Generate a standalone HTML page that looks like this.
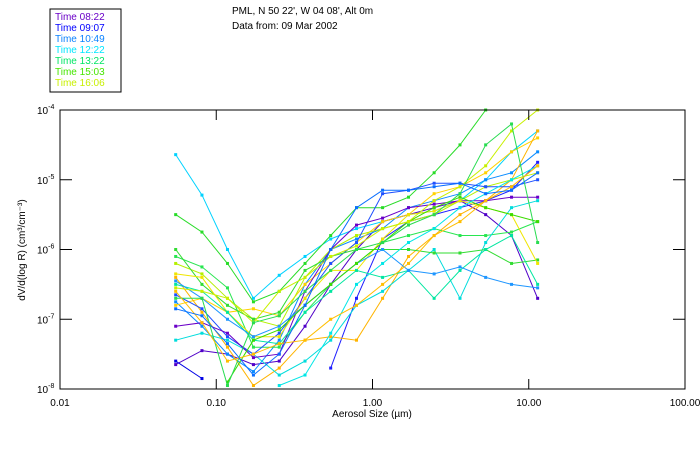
<!DOCTYPE html>
<html><head><meta charset="utf-8"><style>
body{margin:0;background:#fff;width:700px;height:450px;overflow:hidden;font-family:"Liberation Sans",sans-serif}
svg text{font-family:"Liberation Sans",sans-serif;font-size:10px}
</style></head><body>
<svg id="chart" width="700" height="450">
<rect x="50" y="9" width="71" height="83" fill="#fff" stroke="#000"/>
<g id="legend"></g>
<text x="232" y="14">PML, N 50 22', W 04 08', Alt 0m</text>
<text x="232" y="29">Data from: 09 Mar 2002</text>
<g id="series"></g>
<rect x="60" y="110" width="625" height="279" fill="none" stroke="#000"/>
<g id="axes"></g>
<text x="372" y="417" text-anchor="middle">Aerosol Size (µm)</text>
<text transform="translate(25,250) rotate(-90)" text-anchor="middle">dV/d(log R) (cm³/cm⁻³)</text>
</svg>
<script>
const legendLabels=["Time 08:22","Time 09:07","Time 10:49","Time 12:22","Time 13:22","Time 15:03","Time 16:06"];
const legendColors=["#6a00c8","#0000ff","#0a82ff","#00e6ff","#00e664","#46e600","#c8f000"];
const xTicks=[0.01,0.1,1,10,100];
const xTickLabels=["0.01","0.10","1.00","10.00","100.00"];
const yTicks=[-4,-5,-6,-7,-8];
const sizes=[0.055,0.081,0.118,0.173,0.253,0.37,0.54,0.79,1.16,1.7,2.48,3.63,5.3,7.76,11.4];
const seriesColors=["#00d2ff","#28dc28","#5000c8","#1e1eff","#0a8cff","#ffd200","#ffb400","#b4f000","#28e650","#00dcdc","#1e50ff","#6a00c8","#32dc32","#f0e600","#00e6a0","#1e96ff","#3cdc00","#00e6e6","#c8f000","#28dc50","#ffbe00","#0000e6","#0a6eff"];
const s0=[-4.64,-5.22,-6.0,-6.7,-6.37,-6.1,-5.85,-5.7,-5.6,-5.5,-5.45,-5.3,-5.0,-4.6,-4.3];
const s1=[-5.5,-5.75,-6.2,-6.75,-6.6,-6.2,-5.8,-5.4,-5.4,-5.25,-4.9,-4.5,-4.0,-3.8,null];
const s2=[-7.65,-7.45,-7.5,-7.65,-7.6,-7.1,-6.5,-6.0,-5.6,-5.5,-5.4,-5.3,-5.5,-5.8,-6.7];
const s3=[null,null,null,null,null,null,-7.7,-6.7,-5.85,-5.6,-5.5,-5.4,-5.3,-5.15,-4.75];
const s4=[-6.75,-7.1,-7.5,-7.75,-7.3,-6.5,-6.0,-5.85,-5.7,-5.4,-5.3,-5.2,-5.0,-4.9,-4.6];
const s5=[-6.8,-6.7,-6.9,-6.85,-6.95,-6.5,-6.2,-5.9,-5.6,-5.5,-5.2,-5.1,-4.9,-4.6,-4.4];
const s6=[-6.4,-6.9,-7.4,-7.95,-7.7,-7.3,-7.25,-7.3,-6.7,-6.1,-5.8,-5.5,-5.3,-5.0,-4.3];
const s7=[-6.2,-6.35,-6.7,-7.0,-7.1,-6.4,-6.0,-5.8,-5.7,-5.6,-5.5,-5.3,-5.1,-5.0,-4.9];
const s8=[-6.1,-6.25,-6.55,-7.4,-7.4,-6.9,-6.5,-6.2,-5.9,-5.8,-5.7,-5.8,-5.8,-5.75,-5.6];
const s9=[-7.3,-7.2,-7.3,-7.5,-7.8,-7.6,-7.3,-6.8,-6.6,-6.3,-6.0,-6.7,-5.9,-5.4,-5.3];
const s10=[-6.65,-6.85,-7.25,-7.5,-7.2,-6.7,-6.2,-5.9,-5.2,-5.15,-5.05,-5.05,-5.1,-5.1,-5.0];
const s11=[-7.1,-7.05,-7.2,-7.55,-7.5,-6.6,-6.0,-5.65,-5.55,-5.4,-5.35,-5.3,-5.3,-5.25,-5.25];
const s12=[-6.0,-6.5,-6.8,-7.0,-6.9,-6.3,-6.1,-6.0,-6.0,-6.0,-6.05,-6.05,-6.0,-6.2,-6.15];
const s13=[-6.35,-6.4,-6.9,-7.25,-7.25,-6.7,-6.3,-6.3,-5.85,-5.5,-5.45,-5.3,-5.4,-5.5,-6.2];
const s14=[-6.5,-6.6,-6.9,-7.3,-7.35,-6.9,-6.6,-6.3,-6.4,-6.3,-6.7,-6.3,-6.0,-5.8,-6.5];
const s15=[-6.45,-6.7,-7.0,-7.25,-7.1,-6.8,-6.5,-6.2,-6.0,-6.3,-6.35,-6.25,-6.4,-6.5,-6.55];
const s16=[null,null,-7.9,-7.3,-7.15,-6.8,-6.5,-6.2,-5.9,-5.6,-5.4,-5.25,-5.4,-5.5,-5.6];
const s17=[null,null,null,null,-7.95,-7.8,-7.2,-6.5,-6.2,-5.9,-5.7,-5.4,-5.2,-5.0,-4.8];
const s18=[-6.55,-6.6,-6.7,-7.05,-6.6,-6.4,-6.1,-5.95,-5.7,-5.6,-5.3,-5.1,-4.8,-4.3,-4.0];
const s19=[-6.7,-6.7,-7.95,-7.05,-6.95,-6.6,-6.3,-6.0,-5.9,-5.65,-5.5,-5.2,-4.5,-4.2,-5.9];
const s20=[-6.6,-7.05,-7.6,-7.5,-7.35,-7.3,-7.0,-6.8,-6.5,-6.2,-5.8,-5.6,-5.3,-5.1,-4.8];
const s21=[-7.6,-7.85,null,null,null,null,null,null,null,null,null,null,null,null,null];
const s22=[-6.85,-6.95,-7.35,-7.8,-7.5,-6.8,-6.0,-5.4,-5.15,-5.15,-5.1,-5.05,-5.2,-5.15,-4.9];
const allSeries=[s0,s1,s2,s3,s4,s5,s6,s7,s8,s9,s10,s11,s12,s13,s14,s15,s16,s17,s18,s19,s20,s21,s22];

const NS="http://www.w3.org/2000/svg";
const X0=60,X1=685,Y0=110,Y1=389;
function xScale(v){return X0+(Math.log10(v)+2)/4*(X1-X0);}
function yScale(l){return Y0+(-4-l)/4*(Y1-Y0);}
function mk(tag,attrs,parent){const e=document.createElementNS(NS,tag);for(const k in attrs)e.setAttribute(k,attrs[k]);parent.appendChild(e);return e;}
const axes=document.getElementById('axes');
xTicks.forEach((t,i)=>{
  const x=xScale(t);
  if(i>0&&i<xTicks.length-1){
    const a=mk('line',{x1:x,x2:x,y1:Y1,y2:Y1-10,stroke:'#000'},axes);
    
    
    const b=mk('line',{x1:x,x2:x,y1:Y0,y2:Y0+10,stroke:'#000'},axes);
    
    
  }
  const tx=mk('text',{x:x,y:Y1+17,'text-anchor':'middle'},axes);
  tx.textContent=xTickLabels[i];
  
  
});
yTicks.forEach((t,i)=>{
  const y=yScale(t);
  if(i>0&&i<yTicks.length-1){
    const a=mk('line',{x1:X0,x2:X0+12,y1:y,y2:y,stroke:'#000'},axes);
    
    
    const b=mk('line',{x1:X1,x2:X1-12,y1:y,y2:y,stroke:'#000'},axes);
    
    
  }
  const tx=mk('text',{x:37,y:y+4},axes);
  tx.innerHTML='10<tspan dy="-5" font-size="7">'+t+'</tspan>';
  
  
});
const sg=document.getElementById('series');
allSeries.forEach((s,si)=>{
  const c=seriesColors[si%seriesColors.length];
  const g=mk('g',{},sg);
  
  
  let seg=[];
  const flush=()=>{if(seg.length>1)mk('polyline',{points:seg.join(' '),fill:'none',stroke:c,'stroke-width':1},g);seg=[];};
  s.forEach((v,i)=>{
    if(v===null){flush();return;}
    const x=xScale(sizes[i]),y=yScale(v);
    if(y<Y0||y>Y1){flush();return;}
    seg.push(x.toFixed(1)+','+y.toFixed(1));
  });
  flush();
  s.forEach((v,i)=>{
    if(v===null)return;
    const x=xScale(sizes[i]),y=yScale(v);
    if(y<Y0||y>Y1)return;
    const r=mk('rect',{x:x-1.5,y:y-1.5,width:3,height:3,fill:c},g);
    
    
  });
});
const lg=document.getElementById('legend');
legendLabels.forEach((l,i)=>{
  const t=mk('text',{x:55,y:20+i*11,fill:legendColors[i]},lg);
  t.textContent=l;
  
  
});
</script>
</body></html>
